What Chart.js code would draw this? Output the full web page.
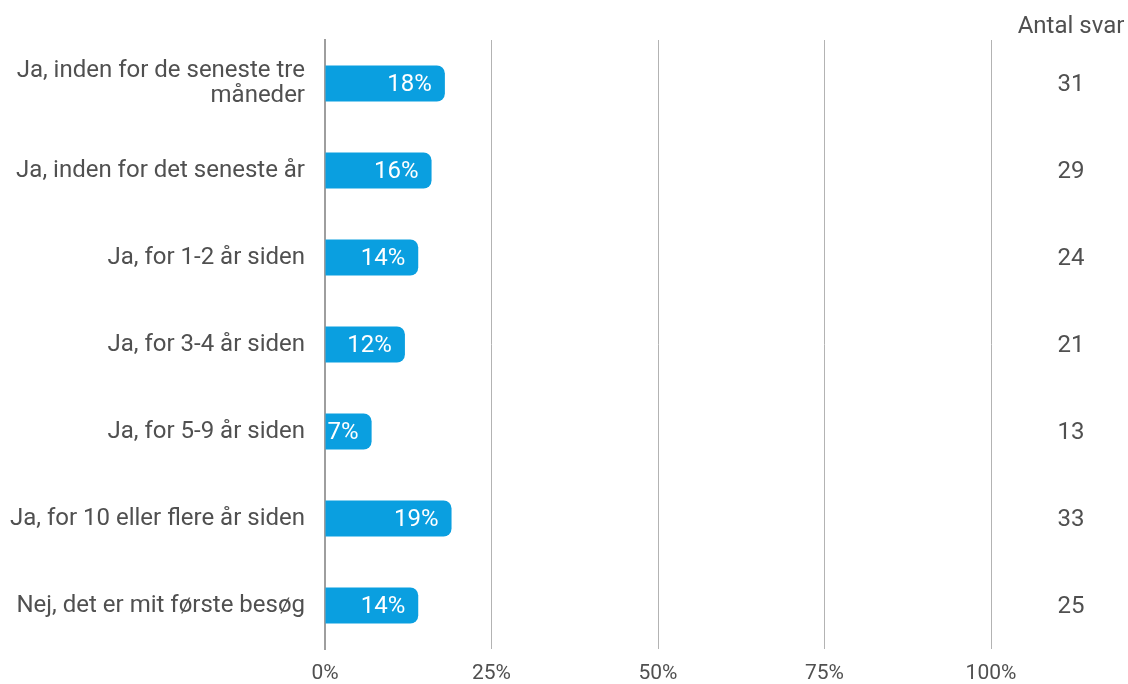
<!DOCTYPE html>
<html>
<head>
<meta charset="utf-8">
<script src="https://cdn.jsdelivr.net/npm/chart.js@4"></script>
<style>
  html, body { margin: 0; padding: 0; background: #fff; }
  #wrap { width: 1128px; height: 684px; }
</style>
</head>
<body>
<div id="wrap"><canvas id="svarChart" width="1128" height="684"></canvas></div>
<script>
// data
const categories = [
    ["Ja, inden for de seneste tre", "måneder"],
    "Ja, inden for det seneste år",
    "Ja, for 1-2 år siden",
    "Ja, for 3-4 år siden",
    "Ja, for 5-9 år siden",
    "Ja, for 10 eller flere år siden",
    "Nej, det er mit første besøg"
];
const percentages = [18, 16, 14, 12, 7, 19, 14];
const antalSvar = [31, 29, 24, 21, 13, 33, 25];
const xTicks = [0, 25, 50, 75, 100];
const antalHeader = "Antal svar";

const textColor = "#505050";
const fontFamily = "Roboto, 'Noto Sans', sans-serif";

// white % labels inside bar ends + count column on the right
const labelsPlugin = {
    id: "labels",
    afterDatasetsDraw(chart) {
        const ctx = chart.ctx;
        const meta = chart.getDatasetMeta(0);
        const yScale = chart.scales.y;
        ctx.save();
        ctx.font = "24px " + fontFamily;
        ctx.textBaseline = "middle";
        meta.data.forEach((bar, i) => {
            ctx.fillStyle = "#ffffff";
            ctx.textAlign = "right";
            ctx.fillText(percentages[i] + "%", bar.x - 13, bar.y + 1);
            ctx.fillStyle = textColor;
            ctx.textAlign = "center";
            ctx.fillText(String(antalSvar[i]), 1071, yScale.getPixelForValue(i) + 1);
        });
        ctx.textAlign = "center";
        ctx.fillStyle = textColor;
        ctx.fillText(antalHeader, 1071, 27);
        ctx.restore();
    }
};

const ctx = document.getElementById("svarChart").getContext("2d");
const myChart = new Chart(ctx, {
    type: "bar",
    data: {
        labels: categories,
        datasets: [
            {
                data: percentages,
                backgroundColor: "#0a9fe0",
                borderRadius: 8,
                borderSkipped: "start",
                categoryPercentage: 1,
                barPercentage: 0.415,
            },
        ],
    },
    plugins: [labelsPlugin],
    options: {
        indexAxis: "y",
        responsive: false,
        animation: false,
        layout: {
            padding: { left: 0, right: 137, top: 40, bottom: 0 },
        },
        plugins: {
            legend: { display: false },
            tooltip: { enabled: false },
        },
        scales: {
            x: {
                min: 0,
                max: 100,
                afterBuildTicks: (scale) => {
                    scale.ticks = xTicks.map((v) => ({ value: v }));
                },
                afterFit: (scale) => {
                    scale.height = 35;
                },
                ticks: {
                    callback: (v) => v + "%",
                    color: textColor,
                    font: { family: fontFamily, size: 21 },
                    padding: 12,
                },
                grid: {
                    color: "#b3b3b3",
                    lineWidth: 1,
                    drawTicks: false,
                },
                border: { display: false },
            },
            y: {
                afterFit: (scale) => {
                    scale.width = 325;
                    // the two-line label would otherwise push the plot up
                    scale.paddingTop = 0;
                    scale.paddingBottom = 0;
                },
                ticks: {
                    color: textColor,
                    font: { family: fontFamily, size: 24, lineHeight: 1.05 },
                    padding: 20,
                },
                grid: { display: false, drawTicks: false },
                border: { display: true, color: "#9e9e9e", width: 2 },
            },
        },
    },
});
</script>
</body>
</html>
